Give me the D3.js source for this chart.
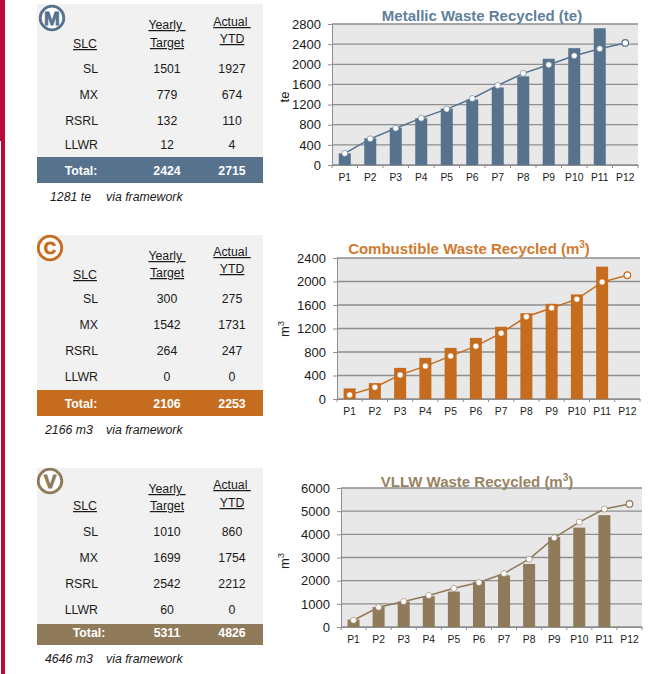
<!DOCTYPE html>
<html>
<head>
<meta charset="utf-8">
<script src="https://cdn.jsdelivr.net/npm/d3@7"></script>
<style>
  html, body { margin: 0; padding: 0; background: #fff; }
  svg { display: block; font-family: "Liberation Sans", Arial, sans-serif; }
</style>
</head>
<body>
<svg id="page" width="653" height="674"></svg>
<script>
const periods = ["P1", "P2", "P3", "P4", "P5", "P6", "P7", "P8", "P9", "P10", "P11", "P12"];
const slcNames = ["SL", "MX", "RSRL", "LLWR"];

// Yearly target / actual YTD per SLC, last entry is the total row
const metalTarget = [1501, 779, 132, 12, 2424];
const metalActual = [1927, 674, 110, 4, 2715];
const combTarget = [300, 1542, 264, 0, 2106];
const combActual = [275, 1731, 247, 0, 2253];
const vllwTarget = [1010, 1699, 2542, 60, 5311];
const vllwActual = [860, 1754, 2212, 0, 4826];

// Monthly bars (P12 not reported yet) and cumulative target line
const metalBars = [230, 530, 740, 930, 1120, 1300, 1540, 1760, 2110, 2320, 2715];
const metalLine = [230, 520, 730, 930, 1110, 1320, 1580, 1820, 1990, 2170, 2310, 2424];
const combBars = [180, 270, 530, 700, 870, 1040, 1230, 1460, 1620, 1780, 2253];
const combLine = [70, 200, 410, 560, 730, 900, 1120, 1400, 1550, 1700, 1990, 2106];
const vllwBars = [320, 860, 1100, 1330, 1530, 1950, 2230, 2720, 3880, 4290, 4826];
const vllwLine = [290, 850, 1100, 1360, 1670, 1920, 2310, 2930, 3850, 4530, 5090, 5311];

const metalTicks = [0, 400, 800, 1200, 1600, 2000, 2400, 2800];
const combTicks = [0, 400, 800, 1200, 1600, 2000, 2400];
const vllwTicks = [0, 1000, 2000, 3000, 4000, 5000, 6000];

const svg = d3.select("#page");

// left page stripe
svg.append("rect").attr("x", 0).attr("y", 0).attr("width", 5).attr("height", 141).attr("fill", "#bb0a3c");
svg.append("rect").attr("x", 1).attr("y", 141).attr("width", 4).attr("height", 533).attr("fill", "#bb0a3c");

const panels = [
  {
    letter: "M", letterSize: 19, color: "#56728d", titleColor: "#5f7f9c", title: "Metallic Waste Recycled (te)", sup: false, unit: "te",
    target: metalTarget, actual: metalActual, bars: metalBars, line: metalLine, ticks: metalTicks, note: "1281 te", noteX: 50,
    box: { top: 4, totalTop: 157, totalBottom: 183 }, icon: [52, 18],
    head: { yearly: 29, target: 47, actual: 26, ytd: 43, slc: 48 }, rows: [73, 99, 125, 149], totalY: 175, noteY: 201, totalX: 81,
    plot: { left: 332, right: 638, top: 24, bottom: 165 }, titleX: 482, titleY: 21, unitY: 97
  },
  {
    letter: "C", letterSize: 17, color: "#c56c1e", titleColor: "#cf7a2e", title: "Combustible Waste Recycled (m", sup: true, unit: "m",
    target: combTarget, actual: combActual, bars: combBars, line: combLine, ticks: combTicks, note: "2166 m3", noteX: 45,
    box: { top: 235, totalTop: 390, totalBottom: 416 }, icon: [50, 248],
    head: { yearly: 260, target: 277, actual: 256, ytd: 273, slc: 279 }, rows: [303, 329, 355, 381], totalY: 408, noteY: 434, totalX: 81,
    plot: { left: 337, right: 640, top: 258, bottom: 399 }, titleX: 469, titleY: 254, unitY: 329
  },
  {
    letter: "V", letterSize: 19, color: "#8f7a5a", titleColor: "#97835f", title: "VLLW Waste Recycled (m", sup: true, unit: "m",
    target: vllwTarget, actual: vllwActual, bars: vllwBars, line: vllwLine, ticks: vllwTicks, note: "4646 m3", noteX: 45,
    box: { top: 468, totalTop: 624, totalBottom: 645 }, icon: [50, 481],
    head: { yearly: 493, target: 510, actual: 489, ytd: 507, slc: 510 }, rows: [536, 562, 588, 614], totalY: 637, noteY: 663, totalX: 89,
    plot: { left: 341, right: 642, top: 488, bottom: 627 }, titleX: 477, titleY: 487, unitY: 561
  }
];

panels.forEach(p => {
  drawTable(p);
  drawChart(p);
});

function label(g, x, y, str, anchor) {
  return g.append("text")
    .attr("x", x).attr("y", y)
    .attr("text-anchor", anchor || "middle")
    .style("font-size", "12.3px")
    .attr("fill", "#1a1a1a")
    .text(str);
}

function drawTable(p) {
  const g = svg.append("g");
  g.append("rect").attr("x", 37).attr("y", p.box.top).attr("width", 226)
    .attr("height", p.box.totalTop - p.box.top).attr("fill", "#f1f1f1");
  g.append("rect").attr("x", 37).attr("y", p.box.totalTop).attr("width", 226)
    .attr("height", p.box.totalBottom - p.box.totalTop).attr("fill", p.color);

  // round badge
  g.append("circle").attr("cx", p.icon[0]).attr("cy", p.icon[1]).attr("r", 11.8)
    .attr("fill", "#fff").attr("stroke", p.color).attr("stroke-width", 2.8);
  g.append("text").attr("x", p.icon[0]).attr("y", p.icon[1] + p.letterSize * 0.36)
    .attr("text-anchor", "middle")
    .style("font-size", p.letterSize + "px").style("font-weight", "bold")
    .attr("fill", p.color)
    .attr("stroke", p.color).attr("stroke-width", 0.8)
    .text(p.letter);

  // headers
  const heads = [
    [85, p.head.slc, "SLC"],
    [167, p.head.yearly, "Yearly\u00a0"],
    [167, p.head.target, "Target"],
    [232, p.head.actual, "Actual\u00a0"],
    [232, p.head.ytd, "YTD"]
  ];
  heads.forEach(h => label(g, h[0], h[1], h[2]).style("text-decoration", "underline"));

  slcNames.forEach((name, i) => {
    label(g, 98, p.rows[i], name, "end");
    label(g, 167, p.rows[i], p.target[i]);
    label(g, 232, p.rows[i], p.actual[i]);
  });

  const total = ["Total:", p.target[4], p.actual[4]];
  [p.totalX, 167, 232].forEach((x, i) => {
    label(g, x, p.totalY, total[i]).attr("fill", "#fff").style("font-weight", "bold");
  });

  label(g, p.noteX, p.noteY, p.note, "start").style("font-style", "italic");
  label(g, 106, p.noteY, "via framework", "start").style("font-style", "italic");
}

function drawChart(p) {
  const b = p.plot;
  const x = d3.scaleBand().domain(periods).range([b.left, b.right]);
  const y = d3.scaleLinear().domain([0, d3.max(p.ticks)]).range([b.bottom, b.top]);
  const g = svg.append("g");

  g.append("rect").attr("x", b.left).attr("y", b.top)
    .attr("width", b.right - b.left).attr("height", b.bottom - b.top)
    .attr("fill", "#e8e8e8");

  // gridlines
  g.append("g").selectAll("line").data(p.ticks).join("line")
    .attr("x1", b.left).attr("x2", b.right)
    .attr("y1", d => y(d)).attr("y2", d => y(d))
    .attr("stroke", "#8e8e8e").attr("stroke-width", 1.3);

  // bars
  const barW = 12;
  g.append("g").selectAll("rect").data(p.bars).join("rect")
    .attr("x", (d, i) => x(periods[i]) + x.bandwidth() / 2 - barW / 2)
    .attr("y", d => y(d))
    .attr("width", barW)
    .attr("height", d => b.bottom - y(d))
    .attr("fill", p.color);

  // target line
  const line = d3.line()
    .x((d, i) => x(periods[i]) + x.bandwidth() / 2)
    .y(d => y(d));
  g.append("path").attr("d", line(p.line))
    .attr("fill", "none").attr("stroke", p.color).attr("stroke-width", 1.5);

  g.append("g").selectAll("circle").data(p.line).join("circle")
    .attr("cx", (d, i) => x(periods[i]) + x.bandwidth() / 2)
    .attr("cy", d => y(d))
    .attr("r", (d, i) => i === 11 ? 3.3 : 3)
    .attr("fill", "#fff")
    .attr("stroke", p.color)
    .attr("stroke-width", (d, i) => i === 11 ? 1.2 : 0.6);

  // axes
  const yAxis = g.append("g")
    .attr("transform", `translate(${b.left},0)`)
    .call(d3.axisLeft(y).tickValues(p.ticks).tickSize(4).tickPadding(7).tickFormat(d3.format("d")));
  yAxis.selectAll("text").style("font-size", "13px").style("font-family", "inherit").attr("fill", "#1a1a1a");
  yAxis.selectAll("line, path").attr("stroke", "#8e8e8e");

  const xAxis = g.append("g")
    .attr("transform", `translate(0,${b.bottom})`)
    .call(d3.axisBottom(x).tickSize(0).tickPadding(9));
  xAxis.selectAll("text").style("font-size", "10.3px").style("font-family", "inherit").attr("fill", "#1a1a1a");
  xAxis.select(".domain").attr("stroke", "#8e8e8e");

  // ticks sit between the categories
  g.append("g").selectAll("line").data(periods.concat("end")).join("line")
    .attr("x1", (d, i) => b.left + i * x.step())
    .attr("x2", (d, i) => b.left + i * x.step())
    .attr("y1", b.bottom).attr("y2", b.bottom + 3)
    .attr("stroke", "#8e8e8e");

  // title
  const title = g.append("text")
    .attr("x", p.titleX).attr("y", p.titleY)
    .attr("text-anchor", "middle")
    .style("font-size", "15px").style("font-weight", "bold")
    .attr("fill", p.titleColor)
    .text(p.title);
  if (p.sup) {
    title.append("tspan").attr("dy", -6).style("font-size", "10px").text("3");
    title.append("tspan").attr("dy", 6).text(")");
  }

  // unit label
  const unit = g.append("text")
    .attr("transform", `translate(289,${p.unitY}) rotate(-90)`)
    .attr("text-anchor", "middle")
    .style("font-size", "13px")
    .attr("fill", "#1a1a1a")
    .text(p.unit);
  if (p.sup) unit.append("tspan").attr("dy", -5).style("font-size", "9px").text("3");
}
</script>
</body>
</html>
